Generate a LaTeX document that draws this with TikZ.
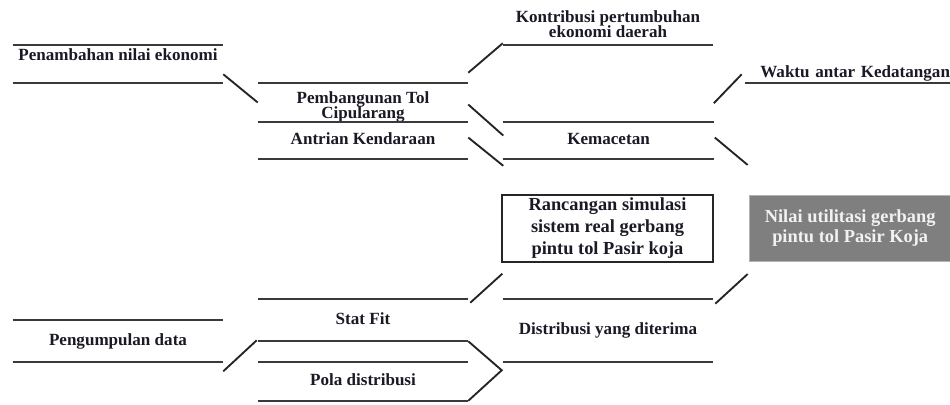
\documentclass[tikz,border=0pt]{standalone}
\usepackage{fontspec}
\setmainfont{Liberation Serif}
\usetikzlibrary{positioning, calc}
\definecolor{inkdark}{HTML}{1A1A26}
\definecolor{rulegray}{HTML}{3A3A3A}
\definecolor{linkgray}{HTML}{242424}
\definecolor{resultgray}{HTML}{7F7F7F}
\newcommand{\labelfont}{\fontsize{12.8}{13}\selectfont\bfseries}
\newcommand{\pairfont}{\fontsize{12.8}{11.6}\selectfont\bfseries\lineskiplimit=-20pt}
\newcommand{\boxfont}{\fontsize{13.8}{16.5}\selectfont\bfseries}
\newcommand{\resultfont}{\fontsize{13.8}{15}\selectfont\bfseries}

\begin{document}
\begin{tikzpicture}[
    x=0.75pt, y=-0.75pt,
    store/.style={minimum width=157.5pt, inner sep=0pt, align=center, text=inkdark, font=\labelfont},
    oneline/.style={text height=9pt, text depth=2.6pt},
    twoline/.style={font=\pairfont},
    storeline/.style={line width=1.4pt, rulegray},
    linkline/.style={line width=1.4pt, linkgray},
    simbox/.style={rectangle, draw=black!85, line width=1pt, fill=white, minimum width=158.25pt, minimum height=50.25pt, inner sep=0pt, align=center, text=inkdark, font=\boxfont},
    resultbox/.style={rectangle, fill=resultgray, draw=black!30, line width=0.8pt, minimum width=151.5pt, minimum height=49.5pt, inner sep=0pt, align=center, text=white!95!black, font=\resultfont},
]
    \useasboundingbox (0,0) rectangle (950,404);

    % upper branch
    \node[store, text height=11.5pt, text depth=17pt] (pen) at (118,64) {Penambahan nilai ekonomi};
    \node[store, twoline, text height=24pt, text depth=0pt, minimum height=29.25pt] (pemb) at (363,102.5) {Pembangunan Tol\\Cipularang};
    \node[store, oneline, minimum height=27pt, below=0pt of pemb] (antr) {Antrian Kendaraan};
    \node[store, oneline, minimum height=27pt, right=26.25pt of antr] (kem) {Kemacetan};
    \node[store, twoline, minimum height=31.5pt] (kontr) at (608,24) {Kontribusi pertumbuhan\\ekonomi daerah};
    \node[store, oneline, text width=150pt, align=right, minimum height=15pt] (waktu) at (850,73) {Waktu antar Kedatangan};

    % middle boxes
    \node[simbox] (ranc) at (607.5,228.5) {Rancangan simulasi\\sistem real gerbang\\pintu tol Pasir koja};
    \node[resultbox, right=26.25pt of ranc] (nilai) {Nilai utilitasi gerbang\\pintu tol Pasir Koja};

    % lower branch
    \node[store, oneline, minimum height=31.5pt] (peng) at (118,341) {Pengumpulan data};
    \node[store, oneline, minimum height=31.5pt] (stat) at (363,320) {Stat Fit};
    \node[store, oneline, minimum height=28.5pt, below=15.75pt of stat] (pola) {Pola distribusi};
    \node[store, oneline, minimum height=47.25pt] (distr) at (608,330.5) {Distribusi yang diterima};

    % store rules
    \foreach \n in {pen,pemb,antr,kem,peng,stat,pola,distr}
        \draw[storeline] (\n.north west) -- (\n.north east) (\n.south west) -- (\n.south east);
    \foreach \n in {kontr,waktu}
        \draw[storeline] (\n.south west) -- (\n.south east);

    % connectors
    \draw[linkline] ($(pen.south east)+(0,-9)$) -- (pemb.west);
    \draw[linkline] ($(pemb.north east)+(0,-10)$) -- ($(kontr.south west)+(0,-2)$);
    \draw[linkline] ($(pemb.east)+(0,2)$) -- ($(kem.west)+(0,-5)$);
    \draw[linkline] ($(antr.east)+(0,-3)$) -- ($(kem.south west)+(0,7)$);
    \draw[linkline] ($(kem.north east)+(0,-19)$) -- ($(waktu.south west)+(-3,-9)$);
    \draw[linkline] ($(kem.east)+(1,-3)$) -- ($(nilai.north west)+(-1,-30)$);
    \draw[linkline] ($(stat.north east)+(2,4)$) -- ($(ranc.south west)+(1,11)$);
    \draw[linkline] ($(distr.north east)+(2,5)$) -- ($(nilai.south west)+(-1,12)$);
    \draw[linkline] ($(peng.south east)+(0,9)$) -- ($(stat.south west)+(-1,-1)$);
    \draw[linkline] (stat.south east) -- ($(distr.south west)+(-1,8)$) -- (pola.south east);
\end{tikzpicture}
\end{document}
